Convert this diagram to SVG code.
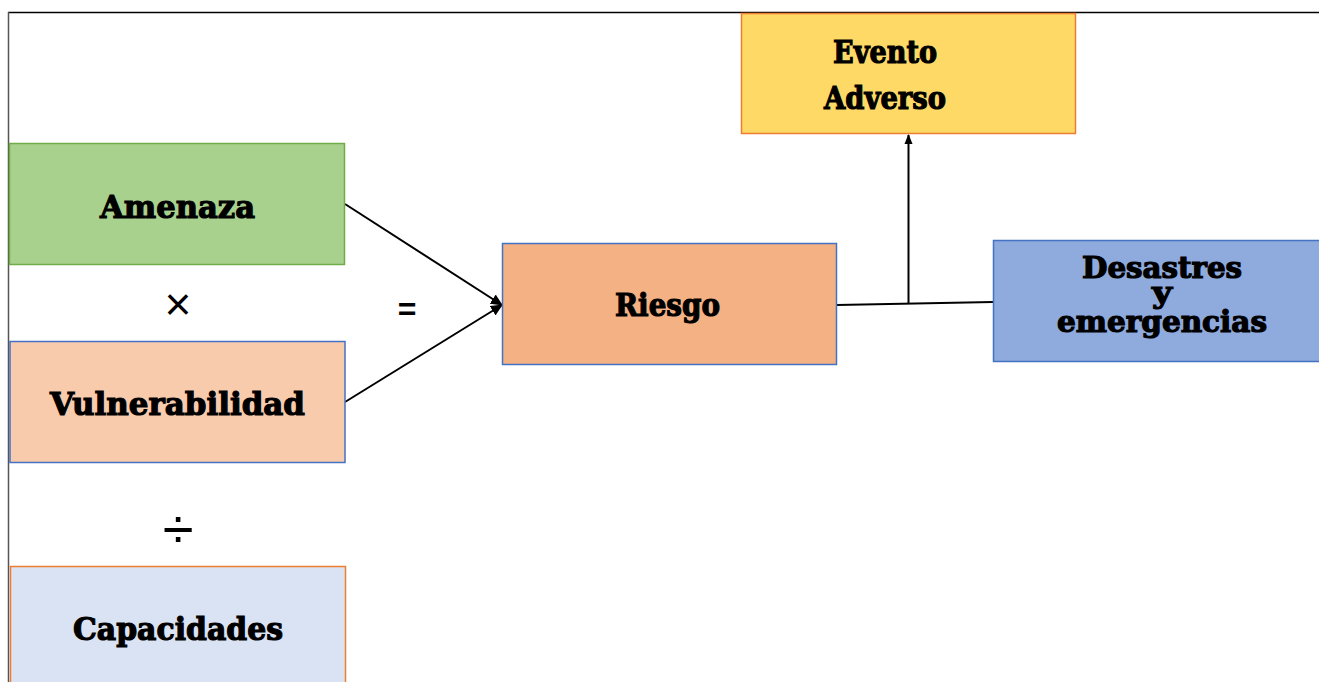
<svg xmlns="http://www.w3.org/2000/svg" width="1319" height="682" viewBox="0 0 1319 682">
<style>
.lbl{font-family:"DejaVu Serif","Liberation Serif",serif;font-weight:bold;font-size:32px;fill:#000;stroke:#000;stroke-width:1.2;text-anchor:start}
.sm{font-size:29px}
.sym{font-family:"Liberation Sans","DejaVu Sans",sans-serif;fill:#000;text-anchor:middle}
.box{stroke-width:1.5}
.conn{stroke:#000;stroke-width:2;fill:none}
</style>
<defs>
<marker id="ah" markerWidth="12" markerHeight="12" refX="11" refY="6" orient="auto" markerUnits="userSpaceOnUse">
<path d="M0,0.5 L12,6 L0,11.5 Z" fill="#000"/>
</marker>
<marker id="ah2" markerWidth="10" markerHeight="10" refX="9" refY="5" orient="auto" markerUnits="userSpaceOnUse">
<path d="M0,1 L10,5 L0,9 Z" fill="#000"/>
</marker>
</defs>
<rect x="0" y="0" width="1319" height="682" fill="#fff"/>
<g id="frame">
<line x1="8" y1="12.5" x2="1319" y2="12.5" stroke="#000" stroke-width="1.5"/>
<line x1="8.5" y1="12" x2="8.5" y2="682" stroke="#555" stroke-width="1.5"/>
</g>
<g id="connectors">
<line class="conn" x1="345" y1="204" x2="502" y2="305" marker-end="url(#ah)"/>
<line class="conn" x1="345" y1="402" x2="502" y2="305" marker-end="url(#ah)"/>
<line class="conn" x1="837" y1="305" x2="993" y2="302"/>
<line class="conn" x1="908.5" y1="303" x2="908.5" y2="135" marker-end="url(#ah2)"/>
</g>
<g id="amenaza">
<rect class="box" x="9.5" y="143.5" width="335" height="121" fill="#a9d18e" stroke="#70ad47"/>
<text class="lbl" x="100" y="218" textLength="155" lengthAdjust="spacingAndGlyphs">Amenaza</text>
</g>
<g id="vulnerabilidad">
<rect class="box" x="10" y="341.5" width="335" height="121" fill="#f8cbad" stroke="#4472c4"/>
<text class="lbl" x="50" y="415" textLength="255" lengthAdjust="spacingAndGlyphs">Vulnerabilidad</text>
</g>
<g id="capacidades">
<rect class="box" x="10.5" y="566.5" width="335" height="130" fill="#dae3f3" stroke="#ed7d31"/>
<text class="lbl" x="73" y="640" textLength="210" lengthAdjust="spacingAndGlyphs">Capacidades</text>
</g>
<g id="riesgo">
<rect class="box" x="502.5" y="243.5" width="334" height="121" fill="#f4b183" stroke="#4472c4"/>
<text class="lbl" x="615" y="316" textLength="105" lengthAdjust="spacingAndGlyphs">Riesgo</text>
</g>
<g id="evento">
<rect class="box" x="741.5" y="13.5" width="334" height="120" fill="#ffd966" stroke="#ed7d31"/>
<text class="lbl" x="833" y="63" textLength="104" lengthAdjust="spacingAndGlyphs">Evento</text>
<text class="lbl" x="824" y="109" textLength="122" lengthAdjust="spacingAndGlyphs">Adverso</text>
</g>
<g id="desastres">
<rect class="box" x="993.5" y="240.5" width="335" height="121" fill="#8faadc" stroke="#4472c4"/>
<text class="lbl sm"><tspan x="1082" y="278" textLength="160" lengthAdjust="spacingAndGlyphs">Desastres</tspan><tspan x="1152" y="303" textLength="20" lengthAdjust="spacingAndGlyphs">y</tspan><tspan x="1057" y="332" textLength="210" lengthAdjust="spacingAndGlyphs">emergencias</tspan></text>
</g>
<g id="operators">
<text class="sym" x="178" y="320" font-size="46">×</text>
<text class="sym" x="407" y="320" font-size="32" font-weight="bold">=</text>
<text class="sym" x="178" y="548" font-size="56">÷</text>
</g>
</svg>
